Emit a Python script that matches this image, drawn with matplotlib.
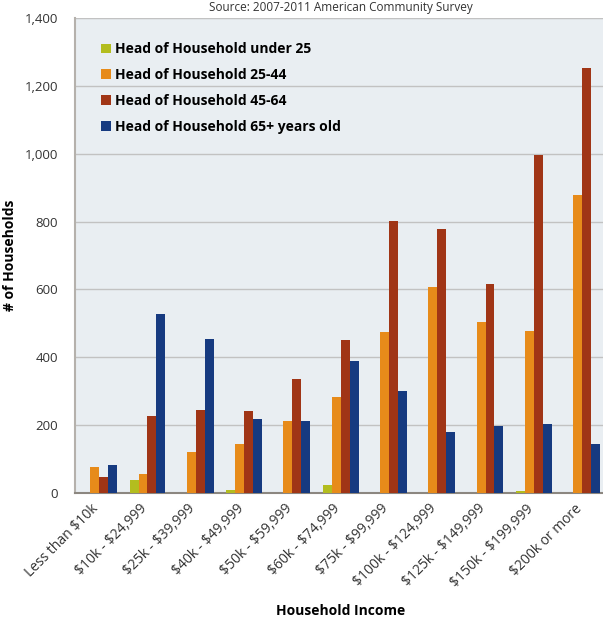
import matplotlib
matplotlib.use('Agg')
import matplotlib.pyplot as plt
import matplotlib.transforms as mtrans
import numpy as np

plt.rcParams['font.family'] = ['Open Sans', 'DejaVu Sans']

cats = ['Less than \\$10k', '\\$10k - \\$24,999', '\\$25k - \\$39,999', '\\$40k - \\$49,999',
        '\\$50k - \\$59,999', '\\$60k - \\$74,999', '\\$75k - \\$99,999', '\\$100k - \\$124,999',
        '\\$125k - \\$149,999', '\\$150k - \\$199,999', '\\$200k or more']
under25 = [0, 37, 0, 9, 0, 23, 0, 0, 0, 5, 0]
age25_44 = [77, 56, 121, 144, 212, 283, 474, 606, 504, 478, 878]
age45_64 = [47, 227, 245, 241, 336, 451, 802, 778, 616, 996, 1252]
age65 = [82, 527, 454, 218, 211, 390, 300, 180, 197, 203, 144]
series = [under25, age25_44, age45_64, age65]
names = ['Head of Household under 25', 'Head of Household 25-44',
         'Head of Household 45-64', 'Head of Household 65+ years old']
colors = ['#B3BD1F', '#E78B1A', '#A03516', '#163A80']

fig = plt.figure(figsize=(6.03, 6.17), dpi=100)
ax = fig.add_axes([0.1244, 0.201, 0.881, 0.770])
ax.set_facecolor('#E9EEF2')

x = np.arange(len(cats))
w = 0.185
for i, (vals, nm, c) in enumerate(zip(series, names, colors)):
    ax.bar(x + (i - 1.5) * w, vals, w, color=c, label=nm, zorder=3,
           edgecolor='none')

ax.set_xlim(-0.5, len(cats) - 0.5)
ax.set_ylim(0, 1400)
ax.set_yticks(range(0, 1401, 200))
ax.set_yticklabels(['{:,}'.format(v) for v in range(0, 1401, 200)])
ax.yaxis.grid(True, color='#C2C2C2', lw=1, zorder=0)
ax.tick_params(axis='both', length=0, labelsize=9.5, colors='#333333')
ax.tick_params(axis='x', labelsize=10)
ax.tick_params(axis='y', pad=12)
ax.tick_params(axis='x', pad=6)
ax.set_xticks(x)
ax.set_xticklabels(cats, rotation=45, ha='right', va='top', rotation_mode='anchor')
shift = mtrans.ScaledTranslation(-8 / 100, 0, fig.dpi_scale_trans)
for lab in ax.get_xticklabels():
    lab.set_transform(lab.get_transform() + shift)
for s in ['top', 'right']:
    ax.spines[s].set_visible(False)
ax.spines['left'].set_color('#B5B1AC')
ax.spines['bottom'].set_color('#8C8780')
ax.spines['left'].set_linewidth(1.5)
ax.spines['bottom'].set_linewidth(1.5)
ax.axhline(1400, color='#C2C2C2', lw=1.5, zorder=1)

ax.set_ylabel('# of Households', fontweight='bold', fontsize=10, labelpad=6)
ax.set_xlabel('Household Income', fontweight='bold', fontsize=10, labelpad=10)

leg = ax.legend(loc='upper left', bbox_to_anchor=(0.025, 0.975), frameon=False,
                prop={'weight': 'bold', 'size': 10}, handlelength=0.7,
                handleheight=0.7, handletextpad=0.3, labelspacing=0.85)

fig.text(0.565, 0.988, 'Source: 2007-2011 American Community Survey',
         ha='center', va='center', fontsize=8.5, color='#333333')

plt.savefig('out.png', dpi=100)
plt.close()
